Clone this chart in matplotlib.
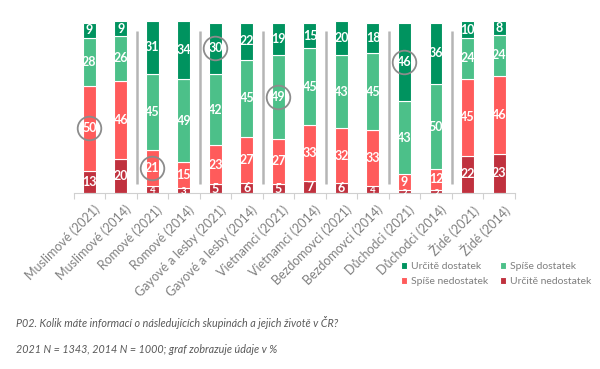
import matplotlib.pyplot as plt
import numpy as np

# --- data (v %)
skupiny = ['Muslimové (2021)', 'Muslimové (2014)', 'Romové (2021)', 'Romové (2014)',
           'Gayové a lesby (2021)', 'Gayové a lesby (2014)', 'Vietnamci (2021)', 'Vietnamci (2014)',
           'Bezdomovci (2021)', 'Bezdomovci (2014)', 'Důchodci (2021)', 'Důchodci (2014)',
           'Židé (2021)', 'Židé (2014)']
urcite_ne = [13, 20, 4, 3, 5, 6, 5, 7, 6, 4, 2, 2, 22, 23]
spise_ne = [50, 46, 21, 15, 23, 27, 27, 33, 32, 33, 9, 12, 45, 46]
spise_ano = [28, 26, 45, 49, 42, 45, 49, 45, 43, 45, 43, 50, 24, 24]
urcite_ano = [9, 9, 31, 34, 30, 22, 19, 15, 20, 18, 46, 36, 10, 8]

# zakroužkované hodnoty: (index skupiny, řada)
kruhy = [(0, 1), (2, 1), (4, 3), (6, 2), (10, 3)]

barvy = ['#C0313E', '#FF5B5B', '#4CC089', '#00935F']
nazvy = ['Určitě nedostatek', 'Spíše nedostatek', 'Spíše dostatek', 'Určitě dostatek']
rady = [urcite_ne, spise_ne, spise_ano, urcite_ano]

plt.rcParams['font.family'] = ['Lato', 'DejaVu Sans']

fig = plt.figure(figsize=(6, 3.69), dpi=100)
ax = fig.add_axes([0.1225, 0.477, 0.7355, 0.466])

x = np.arange(len(skupiny))
spodek = np.zeros(len(skupiny))
bary = []
for hodnoty, barva, nazev in zip(rady, barvy, nazvy):
    h = np.array(hodnoty, dtype=float)
    b = ax.bar(x, h, 0.41, bottom=spodek, color=barva, edgecolor='white', linewidth=0.8, label=nazev)
    bary.append(b)
    for patch, xi, hi, si in zip(b.patches, x, h, spodek):
        if hi < 5:
            # malé hodnoty: useknutý popisek jako v originále
            t = ax.text(xi, si + hi + 0.3, str(int(hi)), ha='center', va='top', color='white',
                        fontsize=7, fontweight='bold')
        else:
            t = ax.text(xi, si + hi / 2, str(int(hi)), ha='center', va='center', color='white',
                        fontsize=9, fontweight='bold')
        t.set_clip_path(patch)
    spodek = spodek + h

# kroužky
for i, r in kruhy:
    y0 = sum(rady[k][i] for k in range(r)) + rady[r][i] / 2
    ax.plot(i, y0, 'o', ms=17, mfc='none', mec='#8c8c8c', mew=1.3)

# oddělovače mezi dvojicemi
for sx in [1.5, 3.5, 5.5, 7.5, 9.5, 11.5]:
    ax.plot([sx, sx], [5, 95], color='#b5b5b5', lw=1.8, solid_capstyle='butt')

ax.set_xlim(-0.5, len(skupiny) - 0.5)
ax.set_ylim(0, 101)
ax.set_yticks([])
for s in ['top', 'right', 'left']:
    ax.spines[s].set_visible(False)
ax.spines['bottom'].set_color('#d0d0d0')
ax.set_xticks(np.arange(-0.5, len(skupiny)), minor=False)
ax.set_xticklabels([])
ax.tick_params(axis='x', length=4, color='#d0d0d0')
for xi, nazev in zip(x, skupiny):
    ax.text(xi + 0.12, -6, nazev, rotation=45, ha='right', va='top', rotation_mode='anchor',
            fontsize=9, color='#808080', clip_on=False)

# legenda
poradi = [3, 1, 2, 0]
fig.legend([bary[k] for k in poradi], [nazvy[k] for k in poradi], ncol=2, frameon=False,
           loc='center left', bbox_to_anchor=(0.652, 0.257), fontsize=7.5, labelcolor='#7f7f7f',
           handlelength=0.6, handleheight=0.6, handletextpad=0.4, columnspacing=1.1, labelspacing=0.6)

fig.text(0.027, 0.127, 'P02. Kolik máte informací o následujících skupinách a jejich životě v ČR?',
         fontsize=7.75, style='italic', color='#595959', va='center')
fig.text(0.027, 0.054, '2021 N = 1343, 2014 N = 1000; graf zobrazuje údaje v %',
         fontsize=7.75, style='italic', color='#595959', va='center')

fig.savefig('out.png', dpi=100)
